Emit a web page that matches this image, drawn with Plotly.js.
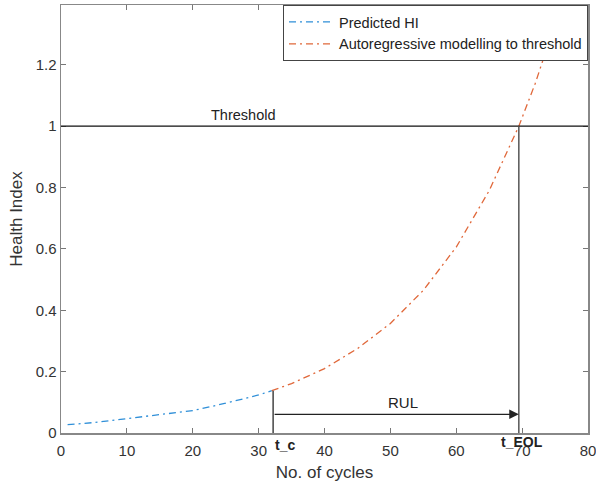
<!DOCTYPE html>
<html>
<head>
<meta charset="utf-8">
<script src="https://cdn.plot.ly/plotly-3.0.1.min.js"></script>
<style>html,body{margin:0;padding:0;background:#fff;}#chart{width:596px;height:485px;}</style>
</head>
<body>
<div id="chart"></div>
<script>
// Predicted health index (observed up to t_c)
const predX = [1, 5, 10, 15, 20, 25, 30, 32];
const predY = [0.027, 0.034, 0.047, 0.059, 0.073, 0.097, 0.124, 0.138];
// Autoregressive extrapolation to threshold
const arX = [32, 35, 40, 45, 50, 55, 60, 65, 69.5, 72, 74, 75.8];
const arY = [0.138, 0.161, 0.21, 0.275, 0.357, 0.465, 0.606, 0.79, 1.0, 1.14, 1.27, 1.4];
// markers
const thresholdY = 1;
const tC = 32.2;
const tEOL = 69.5;
const tcY = 0.138;
const rulY = 0.061;
const xTicks = [0, 10, 20, 30, 40, 50, 60, 70, 80];
const yTicks = [0, 0.2, 0.4, 0.6, 0.8, 1, 1.2];
const yTickText = ['0', '0.2', '0.4', '0.6', '0.8', '1', '1.2'];

const FONT = 'Liberation Sans, Arial, Helvetica, sans-serif';
const traces = [
  {x: predX, y: predY, type: 'scatter', mode: 'lines', name: 'Predicted HI',
   line: {color: '#2f8fd8', width: 1.3, dash: '7px,4px,2px,4px'}},
  {x: arX, y: arY, type: 'scatter', mode: 'lines', name: 'Autoregressive modelling to threshold',
   line: {color: '#e0683a', width: 1.3, dash: '7px,4px,2px,4px'}}
];

const layout = {
  width: 596, height: 485,
  margin: {l: 61, r: 8, t: 5, b: 52},
  paper_bgcolor: '#fff', plot_bgcolor: '#fff',
  font: {family: FONT, size: 15, color: '#333'},
  showlegend: true,
  legend: {x: 1, y: 1, xanchor: 'right', yanchor: 'top', bgcolor: '#fff',
    bordercolor: '#444', borderwidth: 1, font: {family: FONT, size: 14.5, color: '#222'},
    itemwidth: 45, tracegroupgap: 0},
  xaxis: {range: [0, 80], tickvals: xTicks, ticks: 'inside', ticklen: 5, tickcolor: '#777',
    showline: true, linecolor: '#888', linewidth: 1.5, mirror: 'ticks', showgrid: false, zeroline: false,
    tickfont: {family: FONT, size: 15, color: '#333'}, ticklabelstandoff: 3, ticklabeloverflow: 'allow',
    title: {text: 'No. of cycles', font: {family: FONT, size: 17, color: '#333'}, standoff: 8}},
  yaxis: {range: [0, 1.395], tickvals: yTicks, ticktext: yTickText, ticks: 'inside', ticklen: 5, tickcolor: '#777',
    showline: true, linecolor: '#888', linewidth: 1.5, mirror: 'ticks', showgrid: false, zeroline: false,
    tickfont: {family: FONT, size: 15, color: '#333'}, ticklabeloverflow: 'allow',
    title: {text: 'Health Index', font: {family: FONT, size: 17, color: '#333'}, standoff: 8}},
  shapes: [
    {type: 'line', xref: 'x', yref: 'y', x0: 0, x1: 80, y0: thresholdY, y1: thresholdY,
     line: {color: '#111', width: 1.2}},
    {type: 'line', xref: 'x', yref: 'y', x0: tEOL, x1: tEOL, y0: 0, y1: thresholdY,
     line: {color: '#555', width: 1.5}},
    {type: 'line', xref: 'x', yref: 'y', x0: tC, x1: tC, y0: 0, y1: tcY,
     line: {color: '#444', width: 1.5}}
  ],
  annotations: [
    {x: tEOL, y: rulY, ax: tC, ay: rulY, xref: 'x', yref: 'y', axref: 'x', ayref: 'y',
     showarrow: true, arrowhead: 2, arrowsize: 1.6, arrowwidth: 1.2, arrowcolor: '#222', text: ''},
    {x: 51.9, y: 0.10, xref: 'x', yref: 'y', text: 'RUL', showarrow: false,
     font: {family: FONT, size: 15, color: '#222'}},
    {x: 27.7, y: 1.036, xref: 'x', yref: 'y', text: 'Threshold', showarrow: false,
     font: {family: FONT, size: 14.5, color: '#222'}},
    {x: tC, y: -0.027, xref: 'x', yref: 'paper', yanchor: 'middle', text: '<b>t_c</b>', showarrow: false, xanchor: 'left',
     font: {family: FONT, size: 14, color: '#222'}},
    {x: 70.0, y: -0.022, xref: 'x', yref: 'paper', yanchor: 'middle', text: '<b>t_EOL</b>', showarrow: false,
     font: {family: FONT, size: 14, color: '#222'}}
  ]
};

Plotly.newPlot('chart', traces, layout, {displayModeBar: false, staticPlot: true});
</script>
</body>
</html>
